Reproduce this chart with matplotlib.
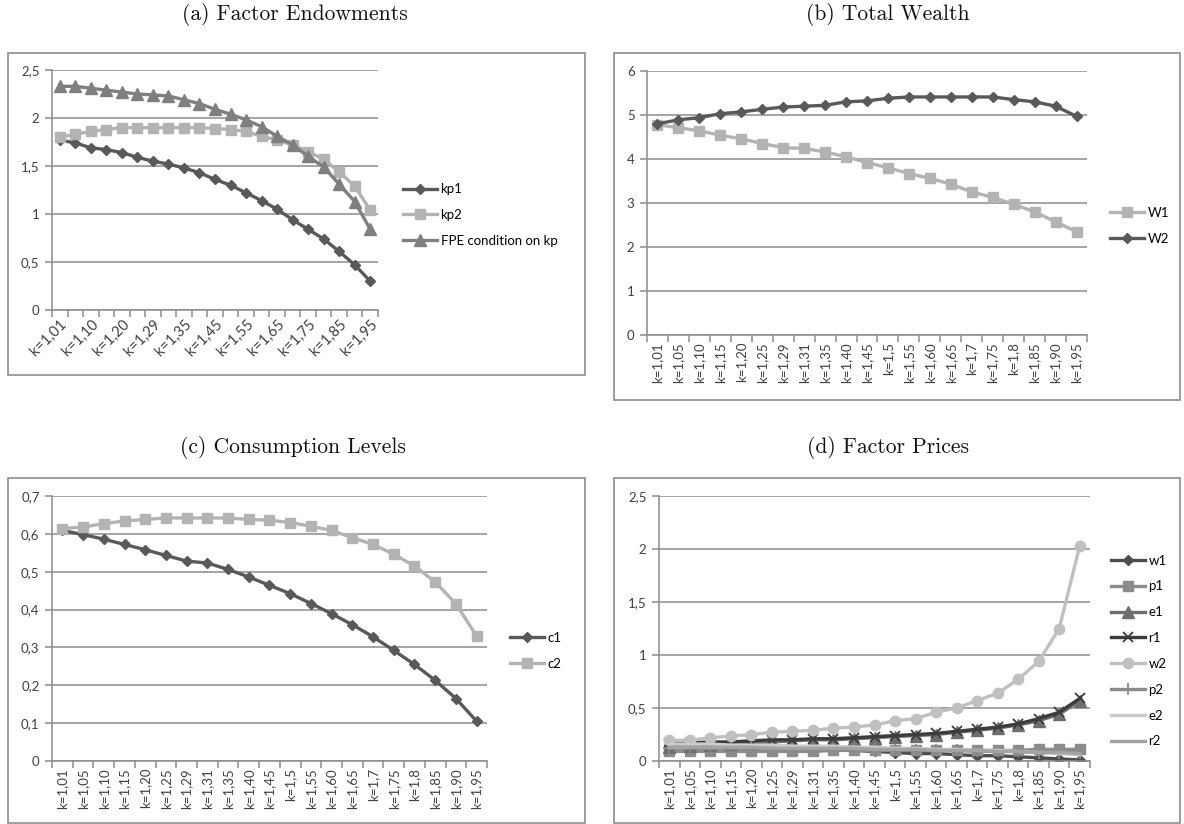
import matplotlib
matplotlib.use('Agg')
import matplotlib.pyplot as plt
from matplotlib.patches import Rectangle
from matplotlib.ticker import FuncFormatter
import numpy as np

# ---------------- data ----------------
cats = ["k=1,01", "k=1,05", "k=1,10", "k=1,15", "k=1,20", "k=1,25", "k=1,29",
        "k=1,31", "k=1,35", "k=1,40", "k=1,45", "k=1,5", "k=1,55", "k=1,60",
        "k=1,65", "k=1,7", "k=1,75", "k=1,8", "k=1,85", "k=1,90", "k=1,95"]
cats_a = ["k=1,01", "k=1,05", "k=1,10", "k=1,15", "k=1,20", "k=1,25", "k=1,29",
          "k=1,31", "k=1,35", "k=1,40", "k=1,45", "k=1,50", "k=1,55", "k=1,60",
          "k=1,65", "k=1,70", "k=1,75", "k=1,80", "k=1,85", "k=1,90", "k=1,95"]

kp1 = [1.77, 1.74, 1.69, 1.67, 1.64, 1.59, 1.55, 1.52, 1.48, 1.43, 1.36, 1.30,
       1.22, 1.14, 1.05, 0.94, 0.84, 0.74, 0.61, 0.47, 0.30]
kp2 = [1.80, 1.83, 1.86, 1.88, 1.90, 1.90, 1.90, 1.90, 1.90, 1.90, 1.89, 1.88,
       1.86, 1.81, 1.77, 1.72, 1.65, 1.57, 1.44, 1.29, 1.04]
fpe = [2.33, 2.33, 2.31, 2.29, 2.27, 2.25, 2.24, 2.23, 2.19, 2.15, 2.09, 2.04,
       1.98, 1.91, 1.81, 1.72, 1.60, 1.49, 1.31, 1.13, 0.84]

W1 = [4.78, 4.71, 4.64, 4.54, 4.46, 4.35, 4.26, 4.24, 4.16, 4.05, 3.92, 3.80,
      3.67, 3.56, 3.43, 3.25, 3.13, 2.97, 2.80, 2.57, 2.35]
W2 = [4.80, 4.89, 4.94, 5.03, 5.07, 5.13, 5.18, 5.20, 5.22, 5.30, 5.32, 5.38,
      5.41, 5.41, 5.41, 5.41, 5.41, 5.35, 5.30, 5.20, 4.97]

c1 = [0.609, 0.598, 0.586, 0.572, 0.558, 0.543, 0.528, 0.523, 0.506, 0.486,
      0.464, 0.442, 0.416, 0.389, 0.360, 0.328, 0.292, 0.255, 0.213, 0.165, 0.105]
c2 = [0.614, 0.618, 0.627, 0.634, 0.638, 0.642, 0.642, 0.642, 0.642, 0.638,
      0.636, 0.630, 0.620, 0.609, 0.590, 0.572, 0.546, 0.515, 0.473, 0.415, 0.330]

w1 = [0.15, 0.15, 0.14, 0.14, 0.13, 0.13, 0.12, 0.12, 0.11, 0.10, 0.09, 0.08,
      0.07, 0.07, 0.06, 0.05, 0.05, 0.04, 0.03, 0.02, 0.01]
p1 = [0.09, 0.09, 0.09, 0.09, 0.09, 0.09, 0.09, 0.09, 0.10, 0.10, 0.10, 0.10,
      0.10, 0.10, 0.10, 0.10, 0.10, 0.10, 0.11, 0.11, 0.11]
e1 = [0.13, 0.14, 0.15, 0.16, 0.17, 0.18, 0.19, 0.20, 0.20, 0.21, 0.22, 0.23,
      0.24, 0.25, 0.27, 0.29, 0.31, 0.34, 0.38, 0.44, 0.57]
r1 = [0.17, 0.17, 0.18, 0.18, 0.19, 0.20, 0.20, 0.21, 0.21, 0.22, 0.23, 0.24,
      0.25, 0.26, 0.28, 0.30, 0.32, 0.35, 0.40, 0.46, 0.59]
w2 = [0.195, 0.195, 0.22, 0.235, 0.25, 0.27, 0.28, 0.29, 0.31, 0.32, 0.34, 0.38,
      0.40, 0.46, 0.50, 0.57, 0.64, 0.77, 0.94, 1.25, 2.03]
p2 = [0.12, 0.12, 0.12, 0.12, 0.12, 0.12, 0.11, 0.11, 0.11, 0.11, 0.11, 0.10,
      0.10, 0.10, 0.10, 0.09, 0.09, 0.09, 0.08, 0.08, 0.08]
e2 = [0.16, 0.16, 0.16, 0.15, 0.15, 0.15, 0.14, 0.14, 0.14, 0.13, 0.13, 0.12,
      0.12, 0.11, 0.11, 0.10, 0.10, 0.09, 0.08, 0.07, 0.06]
r2 = [0.13, 0.13, 0.13, 0.13, 0.13, 0.12, 0.12, 0.12, 0.12, 0.12, 0.11, 0.11,
      0.11, 0.10, 0.10, 0.10, 0.09, 0.09, 0.08, 0.08, 0.07]

# ---------------- figure ----------------
W, H = 1184, 824
fig = plt.figure(figsize=(W / 100, H / 100), dpi=100)
TICKFONT = 'Lato'
GRID = '#8c8c8c'
TXT = '#404040'


def ax_px(l, t, r, b):
    return fig.add_axes([l / W, 1 - b / H, (r - l) / W, (b - t) / H])


def frame_px(l, t, r, b):
    fig.patches.append(Rectangle((l / W, 1 - b / H), (r - l) / W, (b - t) / H,
                                 transform=fig.transFigure, fill=False,
                                 edgecolor='#8c8c8c', lw=1.2))


def title_px(x, y, s):
    fig.text(x / W, 1 - y / H, s, ha='center', va='center',
             family='cmr10', fontsize=15.5, color='#111111')


def style(ax, labels, ymax, ystep, rot, every, xfs=9.5):
    n = len(labels)
    ax.set_xlim(-0.5, n - 0.5)
    ax.set_ylim(0, ymax)
    ax.set_yticks(np.arange(0, ymax + 1e-9, ystep))
    ax.yaxis.set_major_formatter(
        FuncFormatter(lambda v, p: ('%g' % round(v, 2)).replace('.', ',')))
    ax.grid(axis='y', color=GRID, lw=1.1)
    ax.set_axisbelow(True)
    for s in ['top', 'right']:
        ax.spines[s].set_visible(False)
    for s in ['left', 'bottom']:
        ax.spines[s].set_color(GRID)
        ax.spines[s].set_linewidth(1.1)
    ax.set_xticks(np.arange(-0.5, n, 1), minor=True)
    ax.set_xticks(np.arange(0, n, every))
    if rot == 45:
        ax.set_xticklabels(labels[::every], rotation=45, ha='right',
                           rotation_mode='anchor', family=TICKFONT,
                           fontsize=xfs, color=TXT)
    else:
        ax.set_xticklabels(labels[::every], rotation=90, ha='center',
                           va='top', family=TICKFONT, fontsize=xfs, color=TXT)
    for lab in ax.get_yticklabels():
        lab.set_family(TICKFONT)
        lab.set_fontsize(9.5)
        lab.set_color(TXT)
    ax.tick_params(axis='x', which='major', length=0, pad=5)
    ax.tick_params(axis='x', which='minor', length=5, color=GRID, width=1.1)
    ax.tick_params(axis='y', length=5, color=GRID, width=1.1, pad=4)


def legend_px(ax, x, y):
    ax.legend(loc='center left', bbox_to_anchor=(x / W, 1 - y / H),
              bbox_transform=fig.transFigure, frameon=False, borderpad=0,
              borderaxespad=0, handlelength=2.6, handletextpad=0.25,
              labelspacing=1.05, prop={'family': TICKFONT, 'size': 9.5})


x = np.arange(len(cats))
LW = 2.4

# ---- (a) Factor Endowments ----
frame_px(8, 53, 585, 375)
title_px(295, 14, '(a) Factor Endowments')
axa = ax_px(52, 70, 378, 310)
axa.plot(x, kp1, color='#595959', lw=LW, marker='D', ms=5.5, label='kp1')
axa.plot(x, kp2, color='#b3b3b3', lw=LW, marker='s', ms=7, label='kp2')
axa.plot(x, fpe, color='#7f7f7f', lw=LW, marker='^', ms=8,
         label='FPE condition on kp')
style(axa, cats_a, 2.5, 0.5, 45, 2, xfs=10.5)
legend_px(axa, 403, 215)

# ---- (b) Total Wealth ----
frame_px(614, 53, 1180, 400)
title_px(888, 14, '(b) Total Wealth')
axb = ax_px(647, 71, 1087, 335)
axb.plot(x, W1, color='#b3b3b3', lw=LW, marker='s', ms=7, label='W1')
axb.plot(x, W2, color='#595959', lw=LW, marker='D', ms=5.5, label='W2')
style(axb, cats, 6, 1, 90, 1)
legend_px(axb, 1110, 226)

# ---- (c) Consumption Levels ----
frame_px(8, 478, 585, 823)
title_px(293, 447, '(c) Consumption Levels')
axc = ax_px(52, 496, 487, 761)
axc.plot(x, c1, color='#595959', lw=LW, marker='D', ms=5.5, label='c1')
axc.plot(x, c2, color='#b3b3b3', lw=LW, marker='s', ms=7, label='c2')
style(axc, cats, 0.7, 0.1, 90, 1)
legend_px(axc, 510, 651)

# ---- (d) Factor Prices ----
frame_px(614, 478, 1180, 823)
title_px(888, 447, '(d) Factor Prices')
axd = ax_px(659, 496, 1090, 761)
axd.plot(x, w1, color='#4d4d4d', lw=LW, marker='D', ms=5.5, label='w1')
axd.plot(x, p1, color='#8c8c8c', lw=LW, marker='s', ms=7, label='p1')
axd.plot(x, e1, color='#6e6e6e', lw=LW, marker='^', ms=8, label='e1')
axd.plot(x, r1, color='#3c3c3c', lw=LW, marker='x', ms=7, mew=1.3, label='r1')
axd.plot(x, w2, color='#c0c0c0', lw=LW, marker='o', ms=7.5, label='w2')
axd.plot(x, p2, color='#8a8a8a', lw=LW, marker='+', ms=8, mew=1.3, label='p2')
axd.plot(x, e2, color='#cccccc', lw=LW, label='e2')
axd.plot(x, r2, color='#a3a3a3', lw=LW, label='r2')
style(axd, cats, 2.5, 0.5, 90, 1)
legend_px(axd, 1111, 651)

fig.savefig('out.png', dpi=100)
